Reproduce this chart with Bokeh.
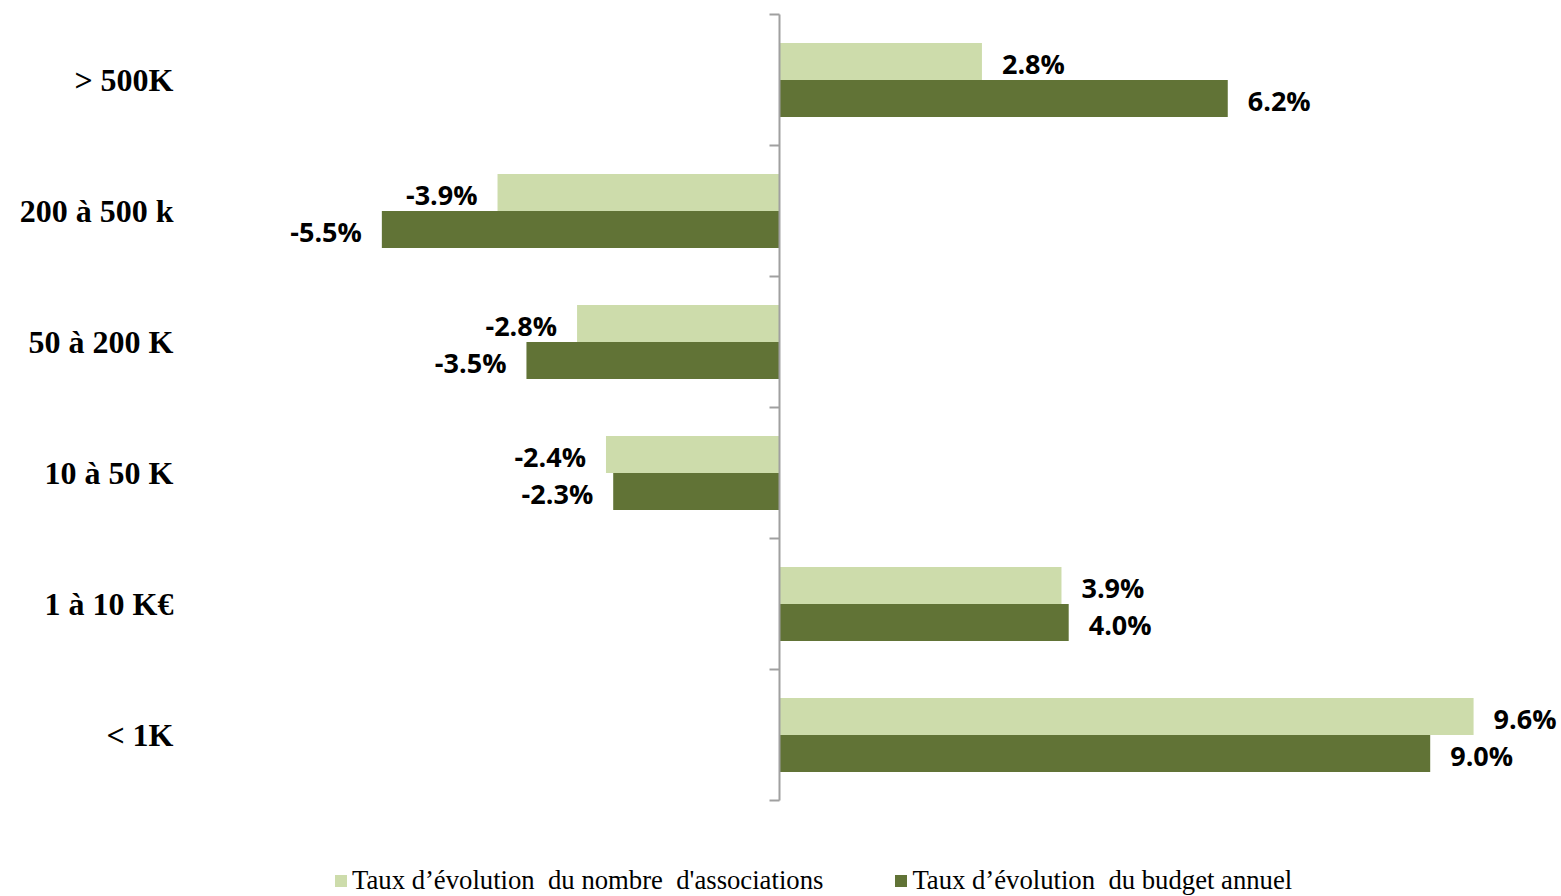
from bokeh.plotting import figure
from bokeh.models import ColumnDataSource, Range1d, FixedTicker, Legend, LegendItem
from bokeh.core.properties import value
from bokeh.embed import file_html
from bokeh.resources import INLINE

categories = ["> 500K", "200 à 500 k", "50 à 200 K", "10 à 50 K", "1 à 10 K€", "< 1K"]
assoc = [2.8, -3.9, -2.8, -2.4, 3.9, 9.6]
budget = [6.2, -5.5, -3.5, -2.3, 4.0, 9.0]
series_names = ["Taux d’évolution  du nombre  d'associations",
                "Taux d’évolution  du budget annuel"]
light = "#CDDCAB"
dark = "#617336"

W, H = 1561, 896
n = len(categories)
# layout (pixels from the figure's top-left corner)
frame_left = 180
zero_px = 779
ppu = 72.3
band_px = 131
axis_top_px = 14

x_start = (frame_left - zero_px) / ppu
x_end = (W - zero_px) / ppu
y_top = n + axis_top_px / band_px
y_bot = n - H / band_px + axis_top_px / band_px

p = figure(width=W, height=H, output_backend="svg", toolbar_location=None,
           x_range=Range1d(x_start, x_end), y_range=Range1d(y_bot, y_top),
           min_border_left=frame_left, min_border_right=0, min_border_top=0, min_border_bottom=0)
p.outline_line_color = None
p.grid.visible = False
p.xaxis.visible = False
p.background_fill_color = "white"
p.border_fill_color = "white"

centers = [n - 0.5 - i for i in range(n)]
bh = 37 / band_px
off = bh / 2

src = ColumnDataSource(dict(
    yc=centers,
    y1=[c + off for c in centers],
    y2=[c - off for c in centers],
    a=assoc, b=budget,
    la=[f"{v:.1f}%" for v in assoc], lb=[f"{v:.1f}%" for v in budget],
    xa=[20 if v >= 0 else -20 for v in assoc], xb=[20 if v >= 0 else -20 for v in budget],
    aa=["left" if v >= 0 else "right" for v in assoc], ab=["left" if v >= 0 else "right" for v in budget],
))

r1 = p.hbar(y="y1", left=0, right="a", height=bh, fill_color=light, line_color=None, source=src)
r2 = p.hbar(y="y2", left=0, right="b", height=bh, fill_color=dark, line_color=None, source=src)

# vertical axis line and boundary ticks
p.segment(x0=0, y0=0, x1=0, y1=n, line_color="#A0A0A0", line_width=2)
bounds = list(range(n + 1))
p.segment(x0=[-10 / ppu] * len(bounds), y0=bounds, x1=[0] * len(bounds), y1=bounds,
          line_color="#A0A0A0", line_width=2)

for xcol, ycol, lcol, ocol, acol in [("a", "y1", "la", "xa", "aa"), ("b", "y2", "lb", "xb", "ab")]:
    p.text(x=xcol, y=ycol, text=lcol, x_offset=ocol, y_offset=2, text_align=acol,
           text_baseline="middle", text_font=value("Open Sans"), text_font_style="bold",
           text_font_size="27px", text_color="black", source=src)

p.yaxis.ticker = FixedTicker(ticks=centers)
p.yaxis.major_label_overrides = {c: cat for c, cat in zip(centers, categories)}
p.yaxis.axis_line_color = None
p.yaxis.major_tick_line_color = None
p.yaxis.minor_tick_line_color = None
p.yaxis.major_tick_out = 0
p.yaxis.major_tick_in = 0
p.yaxis.major_label_standoff = 7
p.yaxis.major_label_text_font = "Liberation Serif"
p.yaxis.major_label_text_font_style = "bold"
p.yaxis.major_label_text_font_size = "32px"
p.yaxis.major_label_text_color = "black"

legend = Legend(items=[LegendItem(label=series_names[0], renderers=[r1]),
                       LegendItem(label=series_names[1], renderers=[r2])],
                orientation="horizontal", location=(153, 0), padding=0, margin=0,
                spacing=70, glyph_width=15, glyph_height=15, label_standoff=4,
                border_line_color=None, background_fill_alpha=0,
                label_text_font="Liberation Serif", label_text_font_size="26.7px",
                label_text_color="black")
p.add_layout(legend)

open("out.html", "w").write(file_html(p, INLINE))
